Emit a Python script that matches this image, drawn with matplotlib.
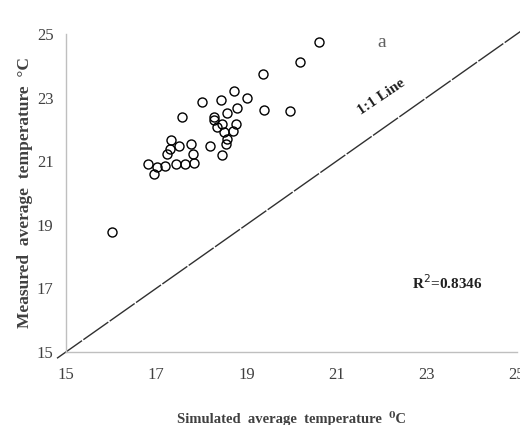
import matplotlib
matplotlib.use('Agg')
import matplotlib.pyplot as plt
import numpy as np

# simulated (x) vs measured (y) average temperature
simulated = [20.61, 20.20, 19.36, 18.72, 19.02, 18.44, 18.01, 19.38, 19.96,
             18.79, 18.57, 17.57, 18.29, 18.29, 18.77, 18.47, 18.35, 18.70,
             18.51, 18.57, 18.54, 18.19, 17.33, 17.50, 17.78, 17.31, 17.24,
             17.81, 18.47, 17.84, 16.82, 17.02, 17.20, 17.45, 17.63, 16.96,
             16.02]
measured = [24.76, 24.12, 23.75, 23.21, 23.00, 22.91, 22.86, 22.62, 22.59,
            22.66, 22.53, 22.39, 22.39, 22.30, 22.18, 22.18, 22.07, 21.95,
            21.92, 21.69, 21.54, 21.47, 21.67, 21.48, 21.55, 21.37, 21.22,
            21.24, 21.19, 20.94, 20.90, 20.82, 20.85, 20.90, 20.90, 20.59,
            18.76]
ticks = [15, 17, 19, 21, 23, 25]
one_to_one = [14.8, 25.4]
r2_text = 'R$^2$=0.8346'

serif = ['Liberation Serif', 'DejaVu Serif']
plt.rcParams['font.family'] = serif

fig = plt.figure(figsize=(5.2, 4.25), dpi=100)
ax = fig.add_axes([0.127, 0.172, 0.867, 0.748])

ax.plot(one_to_one, one_to_one, color='#303030', lw=1.0,
        dashes=(22, 1.2), clip_on=False, zorder=1)
ax.plot(simulated, measured, linestyle='none', marker='o', ms=6.5,
        mfc='none', mec='black', mew=1.0, zorder=3)

ax.set_xlim(15, 25)
ax.set_ylim(15, 25)
ax.set_xticks(ticks)
ax.set_yticks(ticks)
ax.tick_params(length=0, labelsize=12, labelcolor='#404040')
ax.tick_params(axis='x', pad=11)
ax.tick_params(axis='y', pad=9)

for side in ['top', 'right']:
    ax.spines[side].set_visible(False)
for side in ['left', 'bottom']:
    ax.spines[side].set_color('#bfbfbf')
    ax.spines[side].set_linewidth(1.0)

ax.set_xlabel('Simulated  average  temperature  \u2070C', fontsize=10.5,
              fontweight='bold', color='#404040', labelpad=20)
ax.set_ylabel('Measured  average  temperature  \u00b0C', fontsize=12.5,
              fontweight='bold', color='#404040', labelpad=3)

ax.text(22.0, 23.02, '1:1 Line', rotation=34, rotation_mode='anchor',
        ha='center', va='center', fontsize=11, fontweight='bold',
        color='#202020')
ax.text(22.0, 24.72, 'a', ha='center', va='center', fontsize=14,
        color='#606060')
ax.text(23.46, 17.17, r2_text, ha='center', va='center', fontsize=11,
        fontweight='bold', color='#202020')

fig.savefig('out.png', dpi=100)
